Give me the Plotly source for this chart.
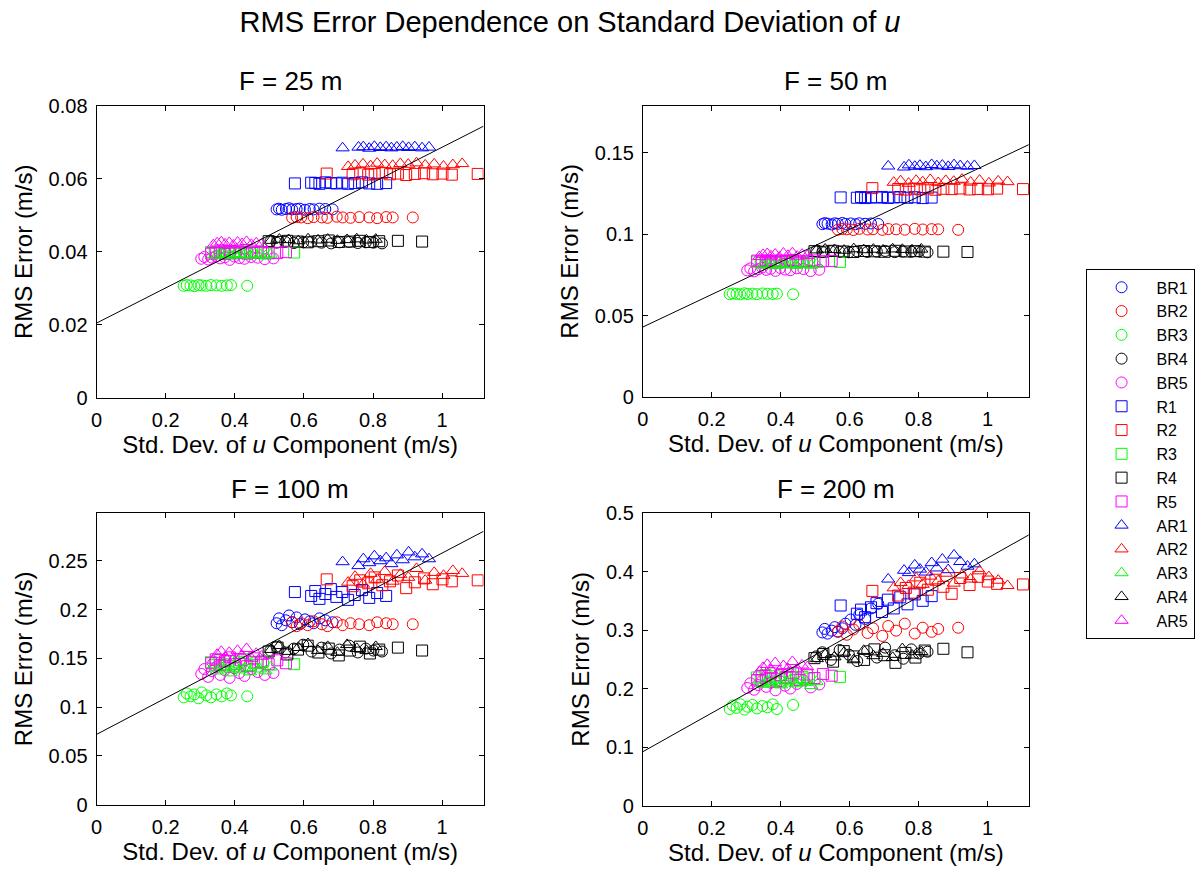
import plotly.graph_objects as go

# ---------------- data ----------------
series_names = ["BR1", "BR2", "BR3", "BR4", "BR5", "R1", "R2", "R3", "R4", "R5",
                "AR1", "AR2", "AR3", "AR4", "AR5"]
series_colors = ["#0000ff", "#ff0000", "#00ff00", "#000000", "#ff00ff"] * 3
series_symbols = ["circle-open"] * 5 + ["square-open"] * 5 + ["triangle-up-open"] * 5

panel_titles = ["F = 25 m", "F = 50 m", "F = 100 m", "F = 200 m"]

# std. dev. of u (shared by all four panels)
x_BR1 = [0.521, 0.528, 0.536, 0.548, 0.557, 0.566, 0.579, 0.588, 0.603, 0.617, 0.628, 0.645, 0.662, 0.683]
x_BR2 = [0.566, 0.579, 0.592, 0.611, 0.628, 0.652, 0.668, 0.695, 0.712, 0.735, 0.760, 0.789, 0.812, 0.838, 0.857, 0.915]
x_BR3 = [0.252, 0.261, 0.272, 0.283, 0.295, 0.304, 0.318, 0.331, 0.347, 0.362, 0.377, 0.389, 0.436]
x_BR4 = [0.503, 0.521, 0.546, 0.571, 0.598, 0.622, 0.651, 0.679, 0.703, 0.731, 0.756, 0.779, 0.801, 0.826]
x_BR5 = [0.303, 0.312, 0.323, 0.334, 0.346, 0.358, 0.371, 0.385, 0.399, 0.413, 0.428, 0.447, 0.466, 0.487, 0.512]
x_R1 = [0.574, 0.621, 0.633, 0.645, 0.662, 0.678, 0.694, 0.711, 0.728, 0.747, 0.768, 0.789, 0.812, 0.838]
x_R2 = [0.666, 0.741, 0.763, 0.786, 0.805, 0.827, 0.849, 0.872, 0.896, 0.921, 0.948, 0.973, 1.001, 1.028, 1.103]
x_R3 = [0.331, 0.342, 0.356, 0.369, 0.383, 0.397, 0.412, 0.428, 0.445, 0.463, 0.482, 0.572]
x_R4 = [0.498, 0.524, 0.552, 0.583, 0.611, 0.642, 0.672, 0.701, 0.733, 0.762, 0.791, 0.818, 0.872, 0.942]
x_R5 = [0.332, 0.345, 0.358, 0.372, 0.386, 0.401, 0.418, 0.436, 0.455, 0.476, 0.498, 0.523, 0.548]
x_AR1 = [0.712, 0.758, 0.772, 0.789, 0.804, 0.821, 0.838, 0.853, 0.869, 0.886, 0.903, 0.921, 0.942, 0.962]
x_AR2 = [0.728, 0.748, 0.771, 0.793, 0.812, 0.834, 0.857, 0.879, 0.902, 0.926, 0.951, 0.977, 1.004, 1.031, 1.058]
x_AR3 = [0.348, 0.362, 0.374, 0.388, 0.401, 0.415, 0.429, 0.444, 0.458, 0.473, 0.489, 0.504]
x_AR4 = [0.505, 0.529, 0.556, 0.584, 0.612, 0.641, 0.669, 0.697, 0.725, 0.753, 0.781, 0.808]
x_AR5 = [0.338, 0.349, 0.361, 0.372, 0.384, 0.396, 0.408, 0.421, 0.434, 0.448, 0.462, 0.477]

# RMS error, F = 25 m
y25_BR1 = [0.0516, 0.0518, 0.0515, 0.0517, 0.0519, 0.0516, 0.0517, 0.0518, 0.0515, 0.0517, 0.0516, 0.0518, 0.0517, 0.0516]
y25_BR2 = [0.0493, 0.0495, 0.0494, 0.0492, 0.0495, 0.0494, 0.0493, 0.0496, 0.0494, 0.0493, 0.0495, 0.0494, 0.0492, 0.0495, 0.0494, 0.0494]
y25_BR3 = [0.0307, 0.0309, 0.0308, 0.0306, 0.0309, 0.0308, 0.0307, 0.0309, 0.0308, 0.0307, 0.0308, 0.0309, 0.0307]
y25_BR4 = [0.0428, 0.0425, 0.0427, 0.0424, 0.0426, 0.0428, 0.0425, 0.0423, 0.0426, 0.0427, 0.0424, 0.0426, 0.0425, 0.0423]
y25_BR5 = [0.0381, 0.0386, 0.0379, 0.0384, 0.0388, 0.0382, 0.0385, 0.0378, 0.0387, 0.0383, 0.0381, 0.0386, 0.0384, 0.0380, 0.0382]
y25_R1 = [0.0587, 0.0589, 0.0588, 0.0586, 0.0590, 0.0588, 0.0587, 0.0589, 0.0586, 0.0588, 0.0590, 0.0587, 0.0586, 0.0588]
y25_R2 = [0.0614, 0.0612, 0.0615, 0.0611, 0.0613, 0.0616, 0.0612, 0.0614, 0.0610, 0.0613, 0.0615, 0.0612, 0.0614, 0.0611, 0.0613]
y25_R3 = [0.0399, 0.0397, 0.0400, 0.0396, 0.0399, 0.0398, 0.0401, 0.0397, 0.0399, 0.0398, 0.0396, 0.0398]
y25_R4 = [0.0429, 0.0427, 0.0430, 0.0428, 0.0426, 0.0429, 0.0431, 0.0427, 0.0428, 0.0430, 0.0427, 0.0429, 0.0430, 0.0428]
y25_R5 = [0.0395, 0.0398, 0.0397, 0.0394, 0.0399, 0.0396, 0.0398, 0.0395, 0.0397, 0.0399, 0.0396, 0.0397, 0.0399]
y25_AR1 = [0.0684, 0.0686, 0.0687, 0.0683, 0.0688, 0.0685, 0.0687, 0.0684, 0.0686, 0.0688, 0.0685, 0.0687, 0.0684, 0.0686]
y25_AR2 = [0.0633, 0.0637, 0.0640, 0.0635, 0.0642, 0.0638, 0.0636, 0.0641, 0.0639, 0.0643, 0.0637, 0.0640, 0.0634, 0.0638, 0.0641]
y25_AR3 = [0.0390, 0.0394, 0.0392, 0.0389, 0.0395, 0.0391, 0.0393, 0.0390, 0.0394, 0.0392, 0.0389, 0.0393]
y25_AR4 = [0.0431, 0.0434, 0.0433, 0.0430, 0.0435, 0.0432, 0.0434, 0.0431, 0.0433, 0.0435, 0.0432, 0.0434]
y25_AR5 = [0.0419, 0.0424, 0.0427, 0.0421, 0.0425, 0.0418, 0.0426, 0.0422, 0.0428, 0.0420, 0.0424, 0.0421]

# RMS error, F = 50 m
y50_BR1 = [0.1062, 0.1068, 0.1065, 0.1060, 0.1067, 0.1064, 0.1069, 0.1063, 0.1066, 0.1061, 0.1067, 0.1064, 0.1066, 0.1063]
y50_BR2 = [0.1028, 0.1032, 0.1030, 0.1026, 0.1033, 0.1029, 0.1031, 0.1027, 0.1032, 0.1030, 0.1028, 0.1033, 0.1029, 0.1031, 0.1030, 0.1027]
y50_BR3 = [0.0632, 0.0636, 0.0634, 0.0631, 0.0637, 0.0633, 0.0635, 0.0632, 0.0636, 0.0634, 0.0633, 0.0635, 0.0631]
y50_BR4 = [0.0894, 0.0890, 0.0896, 0.0892, 0.0889, 0.0895, 0.0891, 0.0893, 0.0897, 0.0890, 0.0894, 0.0892, 0.0895, 0.0889]
y50_BR5 = [0.0778, 0.0790, 0.0772, 0.0785, 0.0795, 0.0781, 0.0788, 0.0775, 0.0793, 0.0783, 0.0779, 0.0791, 0.0786, 0.0774, 0.0782]
y50_R1 = [0.1226, 0.1224, 0.1228, 0.1222, 0.1227, 0.1225, 0.1229, 0.1223, 0.1226, 0.1228, 0.1224, 0.1227, 0.1222, 0.1225]
y50_R2 = [0.1283, 0.1278, 0.1274, 0.1280, 0.1276, 0.1282, 0.1273, 0.1279, 0.1277, 0.1281, 0.1275, 0.1278, 0.1276, 0.1280, 0.1277]
y50_R3 = [0.0832, 0.0828, 0.0835, 0.0830, 0.0826, 0.0833, 0.0829, 0.0834, 0.0827, 0.0831, 0.0828, 0.0830]
y50_R4 = [0.0896, 0.0893, 0.0898, 0.0894, 0.0891, 0.0897, 0.0895, 0.0892, 0.0898, 0.0894, 0.0896, 0.0893, 0.0893, 0.0891]
y50_R5 = [0.0838, 0.0834, 0.0840, 0.0836, 0.0832, 0.0839, 0.0835, 0.0841, 0.0833, 0.0837, 0.0839, 0.0834, 0.0836]
y50_AR1 = [0.1418, 0.1412, 0.1425, 0.1416, 0.1422, 0.1414, 0.1427, 0.1419, 0.1423, 0.1415, 0.1426, 0.1420, 0.1417, 0.1421]
y50_AR2 = [0.1318, 0.1327, 0.1312, 0.1330, 0.1321, 0.1335, 0.1316, 0.1329, 0.1324, 0.1337, 0.1319, 0.1331, 0.1314, 0.1326, 0.1322]
y50_AR3 = [0.0810, 0.0816, 0.0812, 0.0807, 0.0818, 0.0811, 0.0815, 0.0808, 0.0817, 0.0813, 0.0809, 0.0814]
y50_AR4 = [0.0903, 0.0908, 0.0905, 0.0901, 0.0910, 0.0904, 0.0907, 0.0902, 0.0909, 0.0906, 0.0903, 0.0908]
y50_AR5 = [0.0862, 0.0874, 0.0880, 0.0866, 0.0877, 0.0859, 0.0883, 0.0869, 0.0885, 0.0864, 0.0876, 0.0868]

# RMS error, F = 100 m
y100_BR1 = [0.186, 0.191, 0.184, 0.189, 0.194, 0.187, 0.192, 0.185, 0.190, 0.188, 0.186, 0.191, 0.189, 0.187]
y100_BR2 = [0.187, 0.183, 0.186, 0.184, 0.188, 0.185, 0.183, 0.187, 0.184, 0.186, 0.185, 0.184, 0.187, 0.186, 0.185, 0.185]
y100_BR3 = [0.110, 0.114, 0.111, 0.113, 0.109, 0.115, 0.112, 0.110, 0.113, 0.111, 0.114, 0.112, 0.111]
y100_BR4 = [0.158, 0.162, 0.156, 0.160, 0.164, 0.157, 0.161, 0.155, 0.159, 0.163, 0.156, 0.160, 0.158, 0.157]
y100_BR5 = [0.134, 0.139, 0.131, 0.137, 0.141, 0.133, 0.138, 0.130, 0.140, 0.135, 0.132, 0.139, 0.136, 0.133, 0.135]
y100_R1 = [0.218, 0.214, 0.219, 0.211, 0.216, 0.221, 0.213, 0.218, 0.210, 0.215, 0.220, 0.212, 0.217, 0.214]
y100_R2 = [0.231, 0.224, 0.230, 0.227, 0.233, 0.225, 0.229, 0.235, 0.222, 0.228, 0.232, 0.226, 0.231, 0.229, 0.230]
y100_R3 = [0.146, 0.143, 0.148, 0.144, 0.147, 0.142, 0.146, 0.149, 0.143, 0.145, 0.147, 0.144]
y100_R4 = [0.157, 0.161, 0.154, 0.159, 0.163, 0.156, 0.160, 0.153, 0.158, 0.162, 0.155, 0.159, 0.161, 0.158]
y100_R5 = [0.145, 0.149, 0.143, 0.147, 0.151, 0.144, 0.148, 0.142, 0.150, 0.146, 0.144, 0.148, 0.145]
y100_AR1 = [0.249, 0.245, 0.252, 0.248, 0.255, 0.250, 0.253, 0.247, 0.256, 0.251, 0.259, 0.254, 0.257, 0.252]
y100_AR2 = [0.228, 0.234, 0.226, 0.237, 0.231, 0.239, 0.229, 0.236, 0.233, 0.242, 0.230, 0.238, 0.235, 0.240, 0.237]
y100_AR3 = [0.137, 0.141, 0.139, 0.135, 0.142, 0.138, 0.140, 0.136, 0.143, 0.139, 0.137, 0.141]
y100_AR4 = [0.159, 0.163, 0.157, 0.161, 0.165, 0.158, 0.162, 0.156, 0.164, 0.160, 0.158, 0.162]
y100_AR5 = [0.148, 0.154, 0.157, 0.151, 0.156, 0.149, 0.158, 0.153, 0.160, 0.150, 0.155, 0.152]

# RMS error, F = 200 m
y200_BR1 = [0.296, 0.302, 0.294, 0.299, 0.305, 0.297, 0.303, 0.311, 0.318, 0.309, 0.326, 0.319, 0.337, 0.345]
y200_BR2 = [0.298, 0.306, 0.292, 0.301, 0.309, 0.295, 0.303, 0.290, 0.307, 0.299, 0.311, 0.294, 0.304, 0.297, 0.302, 0.304]
y200_BR3 = [0.165, 0.171, 0.167, 0.173, 0.164, 0.169, 0.172, 0.166, 0.170, 0.168, 0.173, 0.165, 0.172]
y200_BR4 = [0.255, 0.262, 0.249, 0.266, 0.258, 0.247, 0.264, 0.253, 0.270, 0.257, 0.251, 0.267, 0.260, 0.263]
y200_BR5 = [0.201, 0.209, 0.198, 0.206, 0.213, 0.203, 0.210, 0.197, 0.212, 0.205, 0.200, 0.208, 0.214, 0.202, 0.207]
y200_R1 = [0.342, 0.328, 0.335, 0.322, 0.339, 0.346, 0.331, 0.352, 0.337, 0.356, 0.344, 0.361, 0.350, 0.358]
y200_R2 = [0.367, 0.359, 0.372, 0.364, 0.381, 0.369, 0.386, 0.374, 0.362, 0.389, 0.377, 0.391, 0.383, 0.379, 0.378]
y200_R3 = [0.219, 0.214, 0.223, 0.216, 0.221, 0.212, 0.218, 0.224, 0.215, 0.220, 0.217, 0.220]
y200_R4 = [0.252, 0.259, 0.246, 0.264, 0.255, 0.249, 0.267, 0.257, 0.244, 0.261, 0.253, 0.265, 0.268, 0.262]
y200_R5 = [0.214, 0.221, 0.217, 0.226, 0.212, 0.223, 0.219, 0.227, 0.215, 0.224, 0.218, 0.225, 0.222]
y200_AR1 = [0.387, 0.402, 0.398, 0.411, 0.404, 0.399, 0.415, 0.406, 0.421, 0.403, 0.428, 0.417, 0.409, 0.413]
y200_AR2 = [0.372, 0.381, 0.376, 0.389, 0.378, 0.392, 0.384, 0.397, 0.380, 0.394, 0.387, 0.401, 0.391, 0.385, 0.376]
y200_AR3 = [0.207, 0.212, 0.209, 0.214, 0.206, 0.211, 0.215, 0.208, 0.213, 0.210, 0.205, 0.212]
y200_AR4 = [0.251, 0.258, 0.254, 0.262, 0.249, 0.265, 0.256, 0.260, 0.253, 0.268, 0.257, 0.263]
y200_AR5 = [0.229, 0.236, 0.241, 0.232, 0.244, 0.230, 0.239, 0.234, 0.246, 0.233, 0.240, 0.237]

# least-squares fit line per panel
fit_intercept = [0.0205, 0.043, 0.072, 0.092]
fit_slope = [0.0481, 0.100, 0.186, 0.331]

# axis ticks
x_tickvals = [0, 0.2, 0.4, 0.6, 0.8, 1]
x_ticktext = ["0", "0.2", "0.4", "0.6", "0.8", "1"]
y_tickvals = [[0, 0.02, 0.04, 0.06, 0.08], [0, 0.05, 0.1, 0.15],
              [0, 0.05, 0.1, 0.15, 0.2, 0.25], [0, 0.1, 0.2, 0.3, 0.4, 0.5]]
y_ticktext = [["0", "0.02", "0.04", "0.06", "0.08"], ["0", "0.05", "0.1", "0.15"],
              ["0", "0.05", "0.1", "0.15", "0.2", "0.25"], ["0", "0.1", "0.2", "0.3", "0.4", "0.5"]]
x_range = [0, 1.12]
y_ranges = [[0, 0.08], [0, 0.179], [0, 0.299], [0, 0.5]]

x_lists = [x_BR1, x_BR2, x_BR3, x_BR4, x_BR5, x_R1, x_R2, x_R3, x_R4, x_R5,
           x_AR1, x_AR2, x_AR3, x_AR4, x_AR5]
y_panels = [
    [y25_BR1, y25_BR2, y25_BR3, y25_BR4, y25_BR5, y25_R1, y25_R2, y25_R3, y25_R4, y25_R5,
     y25_AR1, y25_AR2, y25_AR3, y25_AR4, y25_AR5],
    [y50_BR1, y50_BR2, y50_BR3, y50_BR4, y50_BR5, y50_R1, y50_R2, y50_R3, y50_R4, y50_R5,
     y50_AR1, y50_AR2, y50_AR3, y50_AR4, y50_AR5],
    [y100_BR1, y100_BR2, y100_BR3, y100_BR4, y100_BR5, y100_R1, y100_R2, y100_R3, y100_R4, y100_R5,
     y100_AR1, y100_AR2, y100_AR3, y100_AR4, y100_AR5],
    [y200_BR1, y200_BR2, y200_BR3, y200_BR4, y200_BR5, y200_R1, y200_R2, y200_R3, y200_R4, y200_R5,
     y200_AR1, y200_AR2, y200_AR3, y200_AR4, y200_AR5],
]

# ---------------- figure ----------------
W, H = 1198, 877
FONT = "Liberation Sans, Arial, Helvetica, sans-serif"

# panel plot areas in pixels (left, right, top, bottom)
panel_px = [(91, 480, 97, 397), (640, 1028, 97, 396), (91, 480, 515, 814), (640, 1028, 515, 815)]

fig = go.Figure()

for p in range(4):
    xa = "x" if p == 0 else f"x{p + 1}"
    ya = "y" if p == 0 else f"y{p + 1}"
    for i, name in enumerate(series_names):
        size = 11.5 if name.startswith("AR") else 11
        fig.add_trace(go.Scatter(
            x=x_lists[i], y=y_panels[p][i], mode="markers", name=name,
            legendgroup=name, showlegend=(p == 0),
            marker=dict(symbol=series_symbols[i], size=size,
                        color=series_colors[i], line=dict(width=1, color=series_colors[i])),
            xaxis=xa, yaxis=ya, hoverinfo="skip",
        ))
    fit_x = [x_range[0], x_range[1]]
    fit_y = [fit_intercept[p] + fit_slope[p] * v for v in fit_x]
    fig.add_trace(go.Scatter(
        x=fit_x, y=fit_y, mode="lines", line=dict(color="black", width=1),
        showlegend=False, xaxis=xa, yaxis=ya, hoverinfo="skip",
    ))

axis_common = dict(
    showline=True, linecolor="black", linewidth=1, mirror="ticks",
    ticks="inside", ticklen=5, tickwidth=1, tickcolor="black",
    showgrid=False, zeroline=False, ticklabelstandoff=4,
    tickfont=dict(family=FONT, size=20, color="black"),
)

layout_axes = {}
annotations = []
for p in range(4):
    l, r, t, b = panel_px[p]
    xkey = "xaxis" if p == 0 else f"xaxis{p + 1}"
    ykey = "yaxis" if p == 0 else f"yaxis{p + 1}"
    yid = "y" if p == 0 else f"y{p + 1}"
    xid = "x" if p == 0 else f"x{p + 1}"
    layout_axes[xkey] = dict(
        axis_common, domain=[l / W, r / W], anchor=yid, range=x_range,
        tickvals=x_tickvals, ticktext=x_ticktext,
        title=dict(text="Std. Dev. of <i>u</i> Component (m/s)",
                   font=dict(family=FONT, size=24, color="black"), standoff=2),
    )
    layout_axes[ykey] = dict(
        axis_common, domain=[1 - b / H, 1 - t / H], anchor=xid, range=y_ranges[p],
        tickvals=y_tickvals[p], ticktext=y_ticktext[p],
        title=dict(text="RMS Error (m/s)",
                   font=dict(family=FONT, size=24, color="black"), standoff=9),
    )
    annotations.append(dict(
        text=panel_titles[p], xref="paper", yref="paper",
        x=(l + r) / 2 / W, y=1 - (t - 25) / H, xanchor="center", yanchor="middle",
        showarrow=False, font=dict(family=FONT, size=26, color="black"),
    ))

fig.update_layout(
    width=W, height=H,
    margin=dict(l=0, r=0, t=0, b=0),
    paper_bgcolor="white", plot_bgcolor="white",
    title=dict(text="RMS Error Dependence on Standard Deviation of <i>u</i>",
               x=570 / W, xanchor="center", y=1 - 22 / H, yanchor="middle",
               font=dict(family=FONT, size=29, color="black")),
    legend=dict(x=1085 / W, y=1 - 265 / H, xanchor="left", yanchor="top",
                bordercolor="black", borderwidth=1, bgcolor="white",
                font=dict(family=FONT, size=16, color="black"),
                itemwidth=60, tracegroupgap=0),
    annotations=annotations,
    showlegend=True,
    **layout_axes,
)

fig.write_html("out.html")
